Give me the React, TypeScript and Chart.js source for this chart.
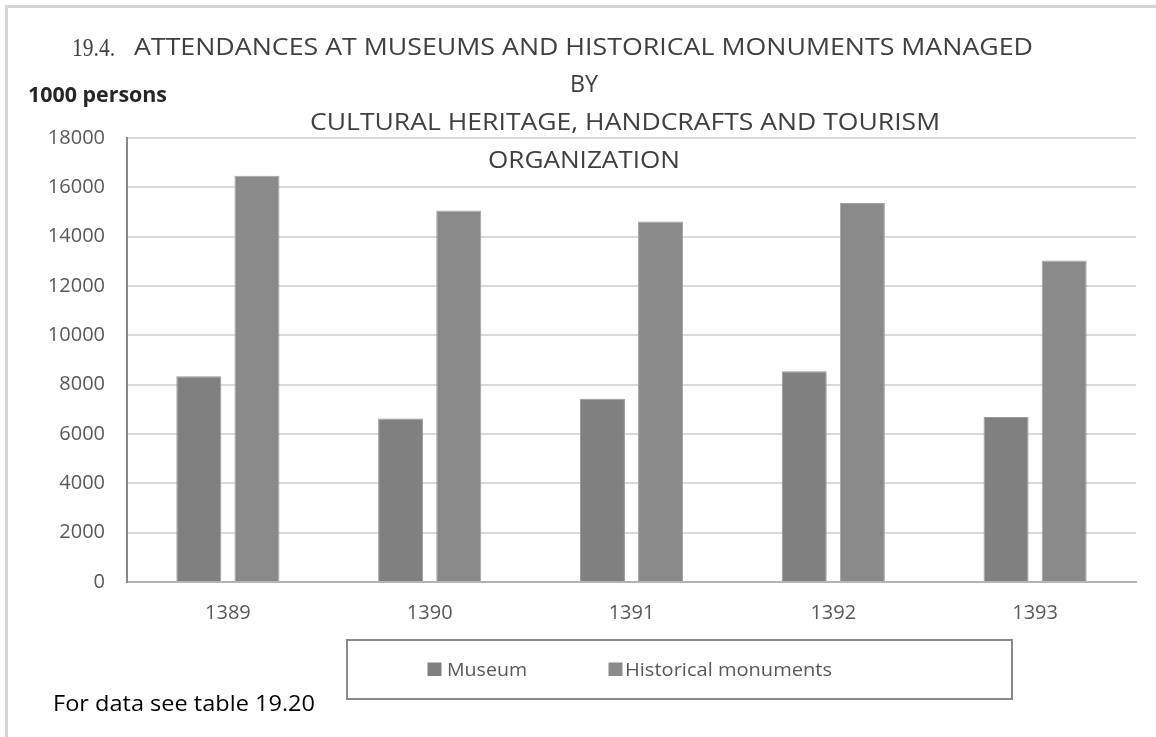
import React, { useEffect, useRef } from 'react';
import { Chart, registerables } from 'chart.js';

Chart.register(...registerables);

// ---------- data ----------
const years: string[] = ['1389', '1390', '1391', '1392', '1393'];
const museumValues: number[] = [8340, 6630, 7430, 8540, 6690];
const monumentValues: number[] = [16470, 15060, 14610, 15360, 13030];
const seriesNames: string[] = ['Museum', 'Historical monuments'];
const seriesColors: string[] = ['#808080', '#8a8a8a'];
const yMin = 0;
const yMax = 18000;
const yStep = 2000;
const titleNumber = '19.4.';
const titleLines: string[] = [
  'ATTENDANCES AT MUSEUMS AND HISTORICAL MONUMENTS MANAGED',
  'BY',
  'CULTURAL HERITAGE, HANDCRAFTS AND TOURISM',
  'ORGANIZATION',
];
const unitLabel = '1000 persons';
const footnote = 'For data see table 19.20';

// ---------- drawing helpers ----------
function fitText(
  ctx: CanvasRenderingContext2D,
  text: string,
  left: number,
  baseline: number,
  width: number,
  font: string,
  color: string
) {
  ctx.save();
  ctx.font = font;
  ctx.fillStyle = color;
  ctx.textBaseline = 'alphabetic';
  ctx.textAlign = 'left';
  const w = ctx.measureText(text).width || 1;
  ctx.translate(left, baseline);
  ctx.scale(width / w, 1);
  ctx.fillText(text, 0, 0);
  ctx.restore();
}

const overlayPlugin = {
  id: 'overlay',
  beforeDraw(chart: any) {
    const { ctx, width, height } = chart;
    ctx.save();
    ctx.fillStyle = '#ffffff';
    ctx.fillRect(0, 0, width, height);
    // outer frame (top + left visible)
    ctx.strokeStyle = '#d6d6d6';
    ctx.lineWidth = 3;
    ctx.beginPath();
    ctx.moveTo(6.5, height + 5);
    ctx.lineTo(6.5, 6.5);
    ctx.lineTo(width + 5, 6.5);
    ctx.stroke();
    ctx.restore();
  },
  afterDraw(chart: any) {
    const { ctx } = chart;
    const titleColor = '#404040';
    const sans = (px: number, weight = 'normal') => `${weight} ${px}px "Open Sans", sans-serif`;

    // title
    fitText(ctx, titleNumber, 72, 55.5, 43, '25px "Liberation Serif", serif', titleColor);
    const titleLayout = [
      { x: 134, base: 55, w: 899 },
      { x: 570, base: 92, w: 28 },
      { x: 310, base: 130, w: 630 },
      { x: 488, base: 168, w: 192 },
    ];
    titleLines.forEach((line, i) => {
      const l = titleLayout[i];
      fitText(ctx, line, l.x, l.base, l.w, sans(24), titleColor);
    });

    // unit label
    fitText(ctx, unitLabel, 28, 101.5, 139, sans(21, 'bold'), '#262626');

    // footnote
    fitText(ctx, footnote, 53, 711, 262, sans(21), '#000000');

    // legend box
    ctx.save();
    ctx.strokeStyle = '#8a8a8a';
    ctx.lineWidth = 2;
    ctx.strokeRect(347, 640, 665, 59);
    ctx.restore();

    const legendItems = [
      { sq: 427.5, tx: 447, tw: 80 },
      { sq: 608.5, tx: 625, tw: 207 },
    ];
    chart.data.datasets.forEach((ds: any, i: number) => {
      const it = legendItems[i];
      ctx.save();
      ctx.fillStyle = ds.backgroundColor;
      ctx.fillRect(it.sq, 662.5, 14, 13.5);
      ctx.restore();
      fitText(ctx, ds.label, it.tx, 676, it.tw, sans(19), '#595959');
    });
  },
};

export default function App() {
  const canvasRef = useRef<HTMLCanvasElement | null>(null);

  useEffect(() => {
    const canvas = canvasRef.current;
    if (!canvas) return;
    const chart = new Chart(canvas, {
      type: 'bar',
      data: {
        labels: years,
        datasets: [
          {
            label: seriesNames[0],
            data: museumValues,
            backgroundColor: seriesColors[0],
            borderColor: '#9a9a9a',
            borderWidth: 1,
            categoryPercentage: 0.576,
            barPercentage: 0.775,
          },
          {
            label: seriesNames[1],
            data: monumentValues,
            backgroundColor: seriesColors[1],
            borderColor: '#a2a2a2',
            borderWidth: 1,
            categoryPercentage: 0.576,
            barPercentage: 0.775,
          },
        ],
      },
      options: {
        responsive: false,
        animation: false,
        devicePixelRatio: 1,
        layout: { padding: { top: 138, left: 0, right: 20, bottom: 95 } },
        plugins: {
          legend: { display: false },
          title: { display: false },
          tooltip: { enabled: false },
        },
        scales: {
          x: {
            grid: { display: false, drawTicks: false },
            border: { display: true, color: '#b4b4b4', width: 2 },
            ticks: {
              color: '#595959',
              font: { family: '"Open Sans", sans-serif', size: 20 },
              padding: 19,
            },
            afterFit: (scale: any) => {
              scale.height = 60;
            },
          },
          y: {
            min: yMin,
            max: yMax,
            ticks: {
              stepSize: yStep,
              color: '#595959',
              font: { family: '"Open Sans", sans-serif', size: 20 },
              padding: 22,
              callback: (v: any) => String(v),
            },
            grid: { color: '#d9d9d9', lineWidth: 2, drawTicks: false },
            border: { display: true, color: '#878787', width: 2 },
            afterFit: (scale: any) => {
              scale.width = 127;
            },
          },
        },
      },
      plugins: [overlayPlugin],
    });
    return () => chart.destroy();
  }, []);

  return (
    <canvas
      ref={canvasRef}
      width={1156}
      height={737}
      style={{ position: 'fixed', left: 0, top: 0, width: 1156, height: 737, display: 'block' }}
    />
  );
}
